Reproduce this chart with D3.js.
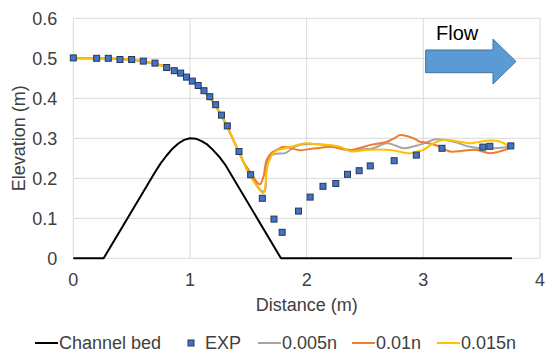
<!DOCTYPE html>
<html>
<head>
<meta charset="utf-8">
<script src="https://cdn.jsdelivr.net/npm/d3@7"></script>
<style>
  body { margin: 0; background: #fff; }
  text { font-family: "Liberation Sans", Arial, sans-serif; fill: #404040; }
</style>
</head>
<body>
<div id="chart"></div>
<script>
// Chart size
const width = 545, height = 353;
const margin = {top: 18.3, right: 5, bottom: 94.7, left: 73.3};

// Channel bed profile (distance, elevation)
const bedX = [0, 0.26, 0.7, 0.75, 0.8, 0.85, 0.9, 0.95, 1.0, 1.05, 1.1, 1.15, 1.2, 1.25, 1.3, 1.78, 3.76];
const bedY = [0, 0, 0.215, 0.238, 0.257, 0.274, 0.287, 0.296, 0.3, 0.299, 0.293, 0.284, 0.27, 0.254, 0.235, 0, 0];

// Experimental water surface
const expX = [0, 0.2, 0.3, 0.4, 0.5, 0.6, 0.7, 0.8, 0.866, 0.92, 0.97, 1.02, 1.07, 1.12, 1.17, 1.22, 1.27, 1.32, 1.42, 1.52,
              1.62, 1.72, 1.79, 1.93, 2.03, 2.14, 2.25, 2.35, 2.45, 2.545, 2.75, 2.94, 3.16, 3.51, 3.57, 3.75];
const expY = [0.501, 0.5, 0.5, 0.497, 0.497, 0.493, 0.488, 0.477, 0.469, 0.463, 0.453, 0.443, 0.432, 0.419, 0.404, 0.384, 0.358, 0.331, 0.267, 0.209,
              0.15, 0.098, 0.065, 0.118, 0.153, 0.18, 0.187, 0.21, 0.219, 0.231, 0.244, 0.258, 0.275, 0.278, 0.28, 0.281];

// Simulations (Manning n)
const upX = [0, 0.2, 0.4, 0.6, 0.8, 0.9, 1.0, 1.1, 1.2, 1.3, 1.4];
const upY = [0.5, 0.5, 0.498, 0.492, 0.478, 0.465, 0.447, 0.423, 0.39, 0.34, 0.278];

const n005X = [1.5, 1.56, 1.6, 1.64, 1.657, 1.7, 1.76, 1.815, 1.9, 1.94, 2.0, 2.1, 2.23, 2.32, 2.4, 2.5, 2.57, 2.685, 2.76, 2.83, 2.96, 3.03, 3.11, 3.26, 3.4, 3.57, 3.74];
const n005Y = [0.215, 0.19, 0.172, 0.167, 0.237, 0.258, 0.262, 0.263, 0.279, 0.283, 0.285, 0.285, 0.279, 0.272, 0.271, 0.273, 0.275, 0.2875, 0.282, 0.275, 0.283, 0.29, 0.2975, 0.2915, 0.279, 0.275, 0.279];

const n01X = [1.44, 1.457, 1.514, 1.571, 1.6, 1.63, 1.657, 1.7, 1.75, 1.8, 1.87, 1.94, 2.04, 2.086, 2.2, 2.3, 2.386, 2.54, 2.686, 2.75, 2.8, 2.914, 2.97, 3.0, 3.08, 3.14, 3.23, 3.34, 3.46, 3.57, 3.74];
const n01Y = [0.255, 0.2415, 0.2165, 0.1915, 0.185, 0.204, 0.246, 0.264, 0.272, 0.279, 0.275, 0.27, 0.274, 0.275, 0.279, 0.274, 0.271, 0.283, 0.2915, 0.3, 0.308, 0.3, 0.2915, 0.29, 0.285, 0.279, 0.267, 0.269, 0.271, 0.2625, 0.275];

const n015X = [1.5, 1.55, 1.6, 1.63, 1.67, 1.73, 1.8, 1.87, 1.914, 1.985, 2.06, 2.2, 2.285, 2.385, 2.514, 2.71, 2.885, 2.94, 3.0, 3.086, 3.17, 3.3, 3.4, 3.54, 3.66, 3.74];
const n015Y = [0.215, 0.19, 0.17, 0.1625, 0.2375, 0.267, 0.274, 0.279, 0.283, 0.2875, 0.286, 0.283, 0.279, 0.267, 0.271, 0.271, 0.2625, 0.2665, 0.271, 0.2875, 0.296, 0.292, 0.2875, 0.294, 0.2915, 0.279];

// Axis ticks
const xTicks = [0, 1, 2, 3, 4];
const yTicks = [0, 0.1, 0.2, 0.3, 0.4, 0.5, 0.6];

// Legend
const legendNames = ['Channel bed', 'EXP', '0.005n', '0.01n', '0.015n'];
const colors = {bed: '#000000', exp: '#4472C4', n005: '#A5A5A5', n01: '#ED7D31', n015: '#FFC000'};

const zip = (xs, ys) => xs.map((x, i) => [x, ys[i]]);

const svg = d3.select('#chart')
              .append('svg')
              .attr('width', width)
              .attr('height', height);

const x = d3.scaleLinear().domain([0, 4]).range([margin.left, width - margin.right]);
const y = d3.scaleLinear().domain([0, 0.6]).range([height - margin.bottom, margin.top]);

// Gridlines
svg.append('g')
    .selectAll('line')
    .data(yTicks)
    .join('line')
        .attr('x1', x(0)).attr('x2', x(4))
        .attr('y1', d => y(d)).attr('y2', d => y(d))
        .attr('stroke', '#d9d9d9').attr('stroke-width', 1);
svg.append('g')
    .selectAll('line')
    .data(xTicks)
    .join('line')
        .attr('x1', d => x(d)).attr('x2', d => x(d))
        .attr('y1', y(0)).attr('y2', y(0.6))
        .attr('stroke', '#d9d9d9').attr('stroke-width', 1);

// Tick labels
svg.append('g')
    .selectAll('text')
    .data(xTicks)
    .join('text')
        .attr('x', d => x(d))
        .attr('y', y(0) + 28)
        .attr('text-anchor', 'middle')
        .style('font-size', '18px')
        .text(d => d);
svg.append('g')
    .selectAll('text')
    .data(yTicks)
    .join('text')
        .attr('x', x(0) - 16)
        .attr('y', d => y(d) + 6.5)
        .attr('text-anchor', 'end')
        .style('font-size', '18px')
        .text(d => d === 0 ? '0' : d3.format('.1f')(d));

// Axis titles
svg.append('text')
    .attr('x', (x(0) + x(4)) / 2)
    .attr('y', 311)
    .attr('text-anchor', 'middle')
    .style('font-size', '18px')
    .text('Distance (m)');
svg.append('text')
    .attr('transform', `translate(25,${(y(0) + y(0.6)) / 2}) rotate(-90)`)
    .attr('text-anchor', 'middle')
    .style('font-size', '18px')
    .text('Elevation (m)');

const bedLine = d3.line().x(d => x(d[0])).y(d => y(d[1]));
const simLine = d3.line().x(d => x(d[0])).y(d => y(d[1])).curve(d3.curveCatmullRom.alpha(0.5));

// Channel bed
svg.append('path')
    .datum(zip(bedX, bedY))
    .attr('d', bedLine)
    .attr('fill', 'none')
    .attr('stroke', colors.bed)
    .attr('stroke-width', 2)
    .attr('stroke-linejoin', 'round');

// Simulated lines
const upstream = zip(upX, upY);
const sims = [
    {c: colors.n005, pts: upstream.concat(zip(n005X, n005Y))},
    {c: colors.n01, pts: upstream.concat(zip(n01X, n01Y))},
    {c: colors.n015, pts: upstream.concat(zip(n015X, n015Y))}
];
svg.append('g')
    .selectAll('path')
    .data(sims)
    .join('path')
        .attr('d', d => simLine(d.pts))
        .attr('fill', 'none')
        .attr('stroke', d => d.c)
        .attr('stroke-width', 2);

// EXP markers
svg.append('g')
    .selectAll('rect')
    .data(zip(expX, expY))
    .join('rect')
        .attr('x', d => x(d[0]) - 3)
        .attr('y', d => y(d[1]) - 3)
        .attr('width', 6)
        .attr('height', 6)
        .attr('fill', colors.exp)
        .attr('stroke', '#26375c')
        .attr('stroke-width', 1);

// Flow arrow
svg.append('polygon')
    .attr('points', '425.7,50 493,50 493,39 516,61.5 493,84 493,72.7 425.7,72.7')
    .attr('fill', '#5B9BD5')
    .attr('stroke', '#41719C')
    .attr('stroke-width', 1);
svg.append('text')
    .attr('x', 436)
    .attr('y', 40)
    .style('font-size', '20px')
    .style('fill', '#000')
    .text('Flow');

// Legend
const legendX = [35, 188, 258, 352, 437];
const legendTypes = ['line', 'marker', 'line', 'line', 'line'];
const legendColors = [colors.bed, colors.exp, colors.n005, colors.n01, colors.n015];
const lg = svg.append('g')
    .selectAll('g')
    .data(legendNames)
    .join('g')
        .attr('transform', (d, i) => `translate(${legendX[i]},343)`);
lg.filter((d, i) => legendTypes[i] === 'line')
    .append('line')
        .attr('x1', 0).attr('x2', 23)
        .attr('stroke', d => legendColors[legendNames.indexOf(d)])
        .attr('stroke-width', 2);
lg.filter((d, i) => legendTypes[i] === 'marker')
    .append('rect')
        .attr('x', 0).attr('y', -3)
        .attr('width', 6).attr('height', 6)
        .attr('fill', colors.exp)
        .attr('stroke', '#26375c');
lg.append('text')
    .attr('x', (d, i) => legendTypes[i] === 'marker' ? 17 : 24)
    .attr('y', 6)
    .style('font-size', '18px')
    .text(d => d);
</script>
</body>
</html>
